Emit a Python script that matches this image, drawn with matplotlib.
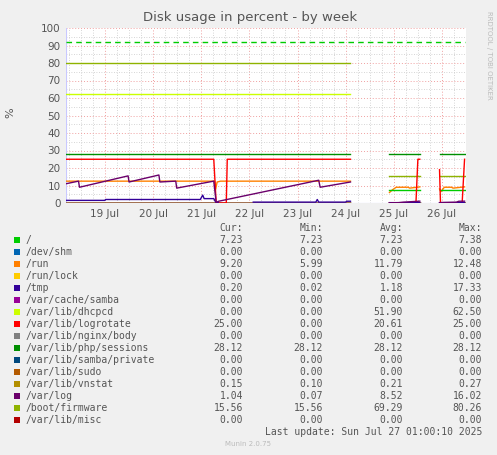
import numpy as np
import matplotlib
matplotlib.use("Agg")
import matplotlib.pyplot as plt
from matplotlib.ticker import MultipleLocator

N = np.nan
# x = days relative to 19 Jul 00:00
day_labels = ["19 Jul", "20 Jul", "21 Jul", "22 Jul", "23 Jul", "24 Jul", "25 Jul", "26 Jul"]
day_pos = [0, 1, 2, 3, 4, 5, 6, 7]

names = ["/", "/dev/shm", "/run", "/run/lock", "/tmp", "/var/cache/samba", "/var/lib/dhcpcd",
         "/var/lib/logrotate", "/var/lib/nginx/body", "/var/lib/php/sessions", "/var/lib/samba/private",
         "/var/lib/sudo", "/var/lib/vnstat", "/var/log", "/boot/firmware", "/var/lib/misc"]
colors = ["#00CC00", "#0066B3", "#FF8000", "#FFCC00", "#330099", "#990099", "#CCFF00", "#FF0000",
          "#808080", "#008F00", "#00487D", "#B35A00", "#B38F00", "#6B006B", "#8FB300", "#B30000"]
cur = ["7.23", "0.00", "9.20", "0.00", "0.20", "0.00", "0.00", "25.00", "0.00", "28.12", "0.00", "0.00", "0.15", "1.04", "15.56", "0.00"]
mins = ["7.23", "0.00", "5.99", "0.00", "0.02", "0.00", "0.00", "0.00", "0.00", "28.12", "0.00", "0.00", "0.10", "0.07", "15.56", "0.00"]
avgs = ["7.23", "0.00", "11.79", "0.00", "1.18", "0.00", "51.90", "20.61", "0.00", "28.12", "0.00", "0.00", "0.21", "8.52", "69.29", "0.00"]
maxs = ["7.38", "0.00", "12.48", "0.00", "17.33", "0.00", "62.50", "25.00", "0.00", "28.12", "0.00", "0.00", "0.27", "16.02", "80.26", "0.00"]

seg_x = [-0.81, 5.10, N, 5.91, 6.54, N, 6.95, 7.47]
root_y = [N, N, N, 7.23, 7.23, N, 7.23, 7.23]
warn_x = [-0.81, 7.47]
warn_y = [92, 92]
boot_y = [80, 80, N, 15.56, 15.56, N, 15.56, 15.56]
dhcp_y = [62.5, 62.5, N, 0, 0, N, 0, 0]
php_y = [28.12, 28.12, N, 28.12, 28.12, N, 28.12, 28.12]
zero_y = [0, 0, N, 0, 0, N, 0, 0]

run_x = [-0.81, 2.28, 2.30, 2.33, 2.40, 5.10, N, 5.91, 5.97, 6.05, 6.30, 6.33, 6.54, N, 6.95, 6.98, 7.05, 7.20, 7.23, 7.47]
run_y = [12.48, 12.48, 8.0, 12.0, 12.48, 12.48, N, 6.0, 7.5, 9.0, 9.0, 8.5, 9.2, N, 8.0, 6.5, 9.0, 9.0, 8.5, 9.2]

logr_x = [-0.81, 2.26, 2.31, 2.52, 2.54, 5.10, N, 5.91, 6.46, 6.50, 6.54, N, 6.95, 6.97, 7.42, 7.47]
logr_y = [25, 25, 0, 0, 25, 25, N, 0, 0, 25, 25, N, 19, 0, 0, 25]

tmp_x = [-0.81, 0.0, 0.01, 1.98, 2.0, 2.03, 2.06, 2.26, 2.30, 2.35, N, 3.08, 4.38, 4.41, 4.44, 5.0, 5.02, 5.10, N, 5.91, 6.54, N, 6.95, 7.47]
tmp_y = [1.5, 1.5, 2.0, 2.0, 3.0, 4.5, 2.5, 2.5, 0.5, 0.3, N, 0.5, 0.5, 2.0, 0.5, 0.5, 1.0, 1.0, N, 0.2, 0.2, N, 0.2, 0.2]

log_x = [-0.81, -0.55, -0.53, 0.48, 0.50, 1.12, 1.14, 1.47, 1.49, 2.26, 2.31, 2.36, 4.44, 4.47, 5.10, N,
         5.91, 6.10, 6.20, 6.54, N, 6.95, 7.00, 7.30, 7.35, 7.47]
log_y = [11, 12.5, 9.0, 15.5, 12.0, 16.0, 12.0, 12.5, 8.5, 12.5, 0.3, 1.0, 13.0, 9.0, 12.0, N,
         0.1, 0.2, 0.5, 1.04, N, 0.1, 0.3, 0.5, 1.0, 1.04]

fig = plt.figure(figsize=(4.97, 4.55), dpi=100, facecolor="#F0F0F0")
ax = fig.add_axes([66/497, 1-203/455, 400/497, 175/455], facecolor="white")
ax.set_xlim(-0.81, 7.50)
ax.set_ylim(0, 100)

ax.xaxis.set_major_locator(MultipleLocator(1))
ax.xaxis.set_minor_locator(MultipleLocator(0.25))
ax.yaxis.set_major_locator(MultipleLocator(10))
ax.yaxis.set_minor_locator(MultipleLocator(5))
ax.grid(which="minor", color="#C8C8C8", linestyle=(0, (1, 2)), linewidth=0.6)
ax.grid(which="major", color="#F0A0A0", linestyle=(0, (1, 2)), linewidth=0.7)
ax.set_axisbelow(True)
ax.set_xticks(day_pos)
ax.set_xticklabels(day_labels)
ax.tick_params(which="both", length=0, labelsize=7.5, colors="#555555", pad=4)
for s in ax.spines.values():
    s.set_visible(False)
ax.axhline(0, color="#C8C8FF", lw=0.8, zorder=1)
ax.axvline(-0.81, color="#C8C8FF", lw=0.8, zorder=1)

lw = 1.0
# zero-value series
for i in [1, 3, 5, 8, 10, 11, 15]:
    ax.plot(seg_x, zero_y, color=colors[i], lw=lw)
ax.plot(seg_x, [0.15, 0.15, N, 0.15, 0.15, N, 0.15, 0.15], color=colors[12], lw=lw)
ax.plot(warn_x, warn_y, color=colors[0], lw=lw, linestyle=(0, (4, 3)))
ax.plot(seg_x, dhcp_y, color=colors[6], lw=lw)
ax.plot(seg_x, boot_y, color=colors[14], lw=lw)
ax.plot(seg_x, php_y, color=colors[9], lw=lw)
ax.plot(run_x, run_y, color=colors[2], lw=lw)
ax.plot(seg_x, root_y, color=colors[0], lw=lw)
ax.plot(logr_x, logr_y, color=colors[7], lw=lw)
ax.plot(tmp_x, tmp_y, color=colors[4], lw=lw)
ax.plot(log_x, log_y, color=colors[13], lw=lw)

fig.text(250/497, 1-18/455, "Disk usage in percent - by week", ha="center", va="center", fontsize=9.5, color="#555555")
fig.text(10/497, 1-113/455, "%", rotation=90, ha="center", va="center", fontsize=8, color="#555555")
fig.text(489/497, 1-55/455, "RRDTOOL / TOBI OETIKER", rotation=270, ha="center", va="center", fontsize=5, color="#BBBBBB")

mono = "DejaVu Sans Mono"
fs = 7
tc = "#555555"
cols = [243, 323, 403, 482]
for c, h in zip(cols, ["Cur:", "Min:", "Avg:", "Max:"]):
    fig.text(c/497, 1-228/455, h, ha="right", va="center", fontsize=fs, family=mono, color=tc)
for i, n in enumerate(names):
    y = 1-(240+12*i)/455
    fig.patches.append(plt.Rectangle((14/497, y-3/455), 6/497, 6/455, transform=fig.transFigure,
                                     facecolor=colors[i], edgecolor="none"))
    fig.text(26/497, y, n, ha="left", va="center", fontsize=fs, family=mono, color=tc)
    for c, v in zip(cols, [cur[i], mins[i], avgs[i], maxs[i]]):
        fig.text(c/497, y, v, ha="right", va="center", fontsize=fs, family=mono, color=tc)
fig.text(482/497, 1-432/455, "Last update: Sun Jul 27 01:00:10 2025", ha="right", va="center", fontsize=fs, family=mono, color=tc)
fig.text(248/497, 1-444/455, "Munin 2.0.75", ha="center", va="center", fontsize=5, color="#BBBBBB")

fig.savefig("out.png", dpi=100, facecolor=fig.get_facecolor())
